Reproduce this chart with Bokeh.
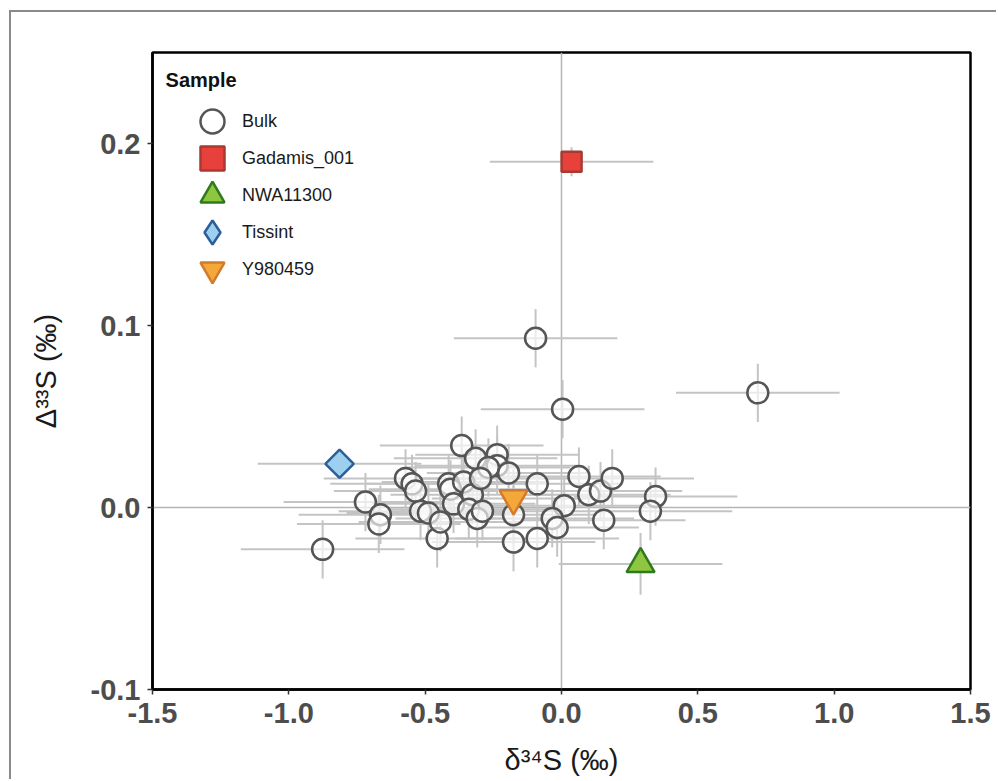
from bokeh.plotting import figure
from bokeh.models import (Span, Legend, LegendItem, Label, FixedTicker,
                          PrintfTickFormatter, Range1d)
from bokeh.embed import file_html
from bokeh.resources import INLINE

# ---------------- data ----------------
bulk_d34 = [-0.095, 0.004, 0.720, -0.876, -0.366, -0.315, -0.236, -0.236, -0.268,
            -0.194, -0.572, -0.548, -0.535, -0.719, -0.664, -0.670, -0.517, -0.488,
            -0.456, -0.444, -0.414, -0.407, -0.396, -0.359, -0.327, -0.340, -0.309,
            -0.290, -0.297, -0.089, -0.176, -0.176, -0.089, 0.010, -0.034, -0.016,
            0.064, 0.100, 0.143, 0.186, 0.155, 0.345, 0.326]
bulk_D33 = [0.093, 0.054, 0.063, -0.023, 0.034, 0.027, 0.029, 0.023, 0.022,
            0.019, 0.016, 0.013, 0.009, 0.003, -0.004, -0.009, -0.002, -0.003,
            -0.017, -0.008, 0.013, 0.010, 0.002, 0.014, 0.007, -0.001, -0.006,
            -0.002, 0.016, 0.013, -0.004, -0.019, -0.017, 0.001, -0.006, -0.011,
            0.017, 0.007, 0.009, 0.016, -0.007, 0.006, -0.002]
bulk_d34_err = [0.30, 0.30, 0.30, 0.30, 0.30, 0.30, 0.30, 0.30, 0.30,
                0.30, 0.30, 0.30, 0.30, 0.30, 0.30, 0.30, 0.30, 0.30,
                0.30, 0.30, 0.30, 0.30, 0.30, 0.30, 0.30, 0.30, 0.30,
                0.30, 0.30, 0.30, 0.30, 0.30, 0.30, 0.30, 0.30, 0.30,
                0.30, 0.30, 0.30, 0.30, 0.30, 0.30, 0.30]
bulk_D33_err = [0.016, 0.016, 0.016, 0.016, 0.016, 0.016, 0.016, 0.016, 0.016,
                0.016, 0.016, 0.016, 0.016, 0.016, 0.016, 0.016, 0.016, 0.016,
                0.016, 0.016, 0.016, 0.016, 0.016, 0.016, 0.016, 0.016, 0.016,
                0.016, 0.016, 0.016, 0.016, 0.016, 0.016, 0.016, 0.016, 0.016,
                0.016, 0.016, 0.016, 0.016, 0.016, 0.016, 0.016]

samples = ["Gadamis_001", "NWA11300", "Tissint", "Y980459"]
sample_d34 = [0.037, 0.290, -0.814, -0.176]
sample_D33 = [0.190, -0.031, 0.024, 0.005]
sample_d34_err = [0.30, 0.30, 0.30, 0.30]
sample_D33_err = [0.008, 0.017, 0.008, 0.016]

legend_title = "Sample"
x_ticks = [-1.5, -1.0, -0.5, 0.0, 0.5, 1.0, 1.5]
y_ticks = [-0.1, 0.0, 0.1, 0.2]

# ---------------- styles ----------------
sample_style = {
    "Gadamis_001": dict(marker="square", size=20, fill="#e8413c", line="#a93a32", angle=0.0,
                        legend_marker="square"),
    "NWA11300": dict(marker="triangle", size=28, fill="#8fc640", line="#2f7a1f", angle=0.0,
                     legend_marker="triangle"),
    "Tissint": dict(marker="square", size=20, fill="#9dd0ef", line="#2c5e9c", angle=0.785398,
                    legend_marker="diamond"),
    "Y980459": dict(marker="inverted_triangle", size=28, fill="#f5a83a", line="#d27b2c", angle=0.0,
                    legend_marker="inverted_triangle"),
}
ERR_COLOR = "#c4c4c4"
FONT = "Liberation Sans"

p = figure(width=987, height=769, output_backend="svg", toolbar_location=None,
           x_range=Range1d(-1.5, 1.5), y_range=Range1d(-0.1, 0.25),
           min_border_left=141, min_border_right=28, min_border_top=40,
           min_border_bottom=92)
p.styles = {"border-top": "2px solid #8a8a8a", "border-left": "2px solid #8a8a8a",
            "margin-left": "9px", "margin-top": "10px"}

p.xgrid.visible = False
p.ygrid.visible = False
p.outline_line_color = "black"
p.outline_line_width = 2.5
p.background_fill_color = "white"
p.border_fill_color = "white"

# zero lines
p.add_layout(Span(location=0, dimension="height", line_color="#b5b5b5", line_width=1.5, level="underlay"))
p.add_layout(Span(location=0, dimension="width", line_color="#b5b5b5", line_width=1.5, level="underlay"))

# error bars
bx0 = [x - e for x, e in zip(bulk_d34, bulk_d34_err)]
bx1 = [x + e for x, e in zip(bulk_d34, bulk_d34_err)]
by0 = [y - e for y, e in zip(bulk_D33, bulk_D33_err)]
by1 = [y + e for y, e in zip(bulk_D33, bulk_D33_err)]
p.segment(x0=bx0, y0=bulk_D33, x1=bx1, y1=bulk_D33, line_color=ERR_COLOR, line_width=2)
p.segment(x0=bulk_d34, y0=by0, x1=bulk_d34, y1=by1, line_color=ERR_COLOR, line_width=2)

sx0 = [x - e for x, e in zip(sample_d34, sample_d34_err)]
sx1 = [x + e for x, e in zip(sample_d34, sample_d34_err)]
sy0 = [y - e for y, e in zip(sample_D33, sample_D33_err)]
sy1 = [y + e for y, e in zip(sample_D33, sample_D33_err)]
p.segment(x0=sx0, y0=sample_D33, x1=sx1, y1=sample_D33, line_color=ERR_COLOR, line_width=2)
p.segment(x0=sample_d34, y0=sy0, x1=sample_d34, y1=sy1, line_color=ERR_COLOR, line_width=2)

# points
bulk_r = p.scatter(x=bulk_d34, y=bulk_D33, marker="circle", size=21,
                   fill_color="white", fill_alpha=0.65,
                   line_color="#555555", line_width=2.5)

items = [LegendItem(label="Bulk", renderers=[bulk_r])]
for name, xv, yv in zip(samples, sample_d34, sample_D33):
    st = sample_style[name]
    leg_r = None
    if st["legend_marker"] != st["marker"]:
        # legend swatch: un-rotated diamond (legends ignore marker angle);
        # drawn underneath and fully covered by the rotated square
        leg_r = p.scatter(x=[xv], y=[yv], marker=st["legend_marker"], size=22,
                          fill_color=st["fill"], line_color=st["line"], line_width=2.5)
    r = p.scatter(x=[xv], y=[yv], marker=st["marker"], size=st["size"], angle=st["angle"],
                  fill_color=st["fill"], line_color=st["line"], line_width=2.5)
    items.append(LegendItem(label=name, renderers=[leg_r if leg_r is not None else r]))

# one legend entry per row so that the glyph boxes can overlap (37 px row pitch)
GB = 60
for i, it in enumerate(items):
    lg = Legend(items=[it], location=(30, 538 - 37 * i), margin=0, padding=0,
                glyph_width=GB, glyph_height=GB, label_standoff=0,
                label_text_font=FONT, label_text_font_size="18px",
                label_text_color="#1a1a1a", label_text_baseline="middle",
                border_line_color=None, background_fill_alpha=0.0)
    p.add_layout(lg)

p.add_layout(Label(x=-1.452, y=0.2347, text=legend_title, text_font=FONT,
                   text_font_size="20px", text_font_style="bold",
                   text_color="#111111", text_baseline="middle", text_align="left"))

# axes
for ax in (p.xaxis[0], p.yaxis[0]):
    ax.axis_line_color = "black"
    ax.axis_line_width = 2.5
    ax.major_tick_line_color = "#333333"
    ax.major_tick_line_width = 1.5
    ax.major_tick_out = 5
    ax.major_tick_in = 0
    ax.minor_tick_line_color = None
    ax.major_label_text_font = FONT
    ax.major_label_text_font_size = "29px"
    ax.major_label_text_font_style = "bold"
    ax.major_label_text_color = "#4d4d4d"
    ax.axis_label_text_font = FONT
    ax.axis_label_text_font_size = "29px"
    ax.axis_label_text_font_style = "normal"
    ax.axis_label_text_color = "#1a1a1a"
    ax.formatter = PrintfTickFormatter(format="%.1f")

p.xaxis[0].ticker = FixedTicker(ticks=x_ticks)
p.yaxis[0].ticker = FixedTicker(ticks=y_ticks)
p.xaxis[0].axis_label = "δ³⁴S (‰)"
p.yaxis[0].axis_label = "Δ³³S (‰)"
p.xaxis[0].major_label_standoff = 8
p.yaxis[0].major_label_standoff = 7
p.xaxis[0].axis_label_standoff = 18
p.yaxis[0].axis_label_standoff = 26

open("out.html", "w").write(file_html(p, INLINE))
